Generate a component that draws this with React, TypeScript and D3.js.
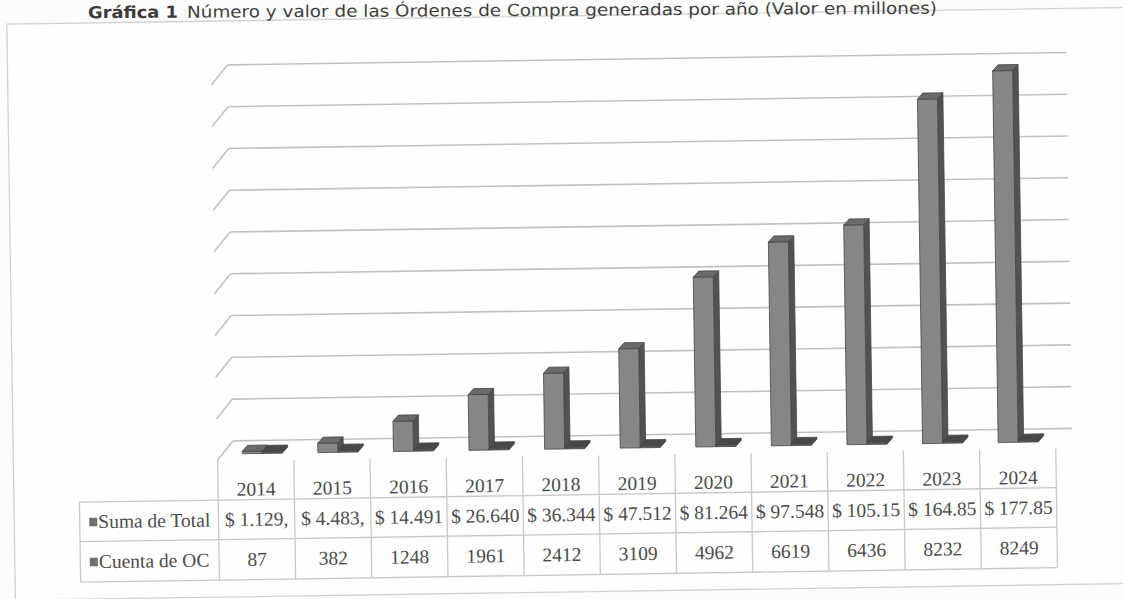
import React from "react";
import * as d3 from "d3";

const years = ["2014", "2015", "2016", "2017", "2018", "2019", "2020", "2021", "2022", "2023", "2024"];
const sumaTotal = [1129e6, 4483e6, 14491e6, 26640e6, 36344e6, 47512e6, 81264e6, 97548e6, 105150e6, 164850e6, 177850e6];
const cuentaOC = [87, 382, 1248, 1961, 2412, 3109, 4962, 6619, 6436, 8232, 8249];
const sumaLabels = ["$ 1.129,", "$ 4.483,", "$ 14.491", "$ 26.640", "$ 36.344", "$ 47.512", "$ 81.264", "$ 97.548", "$ 105.15", "$ 164.85", "$ 177.85"];
const seriesNames = ["Suma de Total", "Cuenta de OC"];
const titleBold = "Gráfica 1";
const titleRest = "Número y valor de las Órdenes de Compra generadas por año (Valor en millones)";
const axisMax = 180e9;

const W = 1123;
const H = 599;

export default function App() {
  const depthDx = 16.3;
  const depthDy = 19.7;
  const floorFront = 456;
  const backBase = 436;
  const wallLeft = 231;
  const wallRight = 1070;

  const tableLeft = 76.5;
  const rowTops = [456, 495, 534.5, 575];

  const xCol = d3.scaleBand<string>().domain(years).range([215.3, 215.3 + 11 * 76.2]);
  const xBar = d3.scaleBand<string>().domain(years).range([228, 228 + 11 * 75.6]);
  const yGrid = d3.scaleLinear().domain([0, axisMax]).range([backBase, 60]);
  const yBar = d3.scaleLinear().domain([0, axisMax]).range([449, 449 - 376.2]);
  const ticks = yGrid.ticks(10);

  const barW = 20;
  const bdx = 5.5;
  const bdy = 6;
  const base = yBar(0);

  const bar3d = (x: number, v: number, key: string, dark: boolean) => {
    let top = yBar(v);
    if (base - top < 2) top = base - 2;
    const front = dark ? "#5a5a5a" : "#868686";
    const side = dark ? "#3d3d3d" : "#525252";
    const topC = dark ? "#484848" : "#6a6a6a";
    return (
      <g key={key} stroke="#474747" strokeWidth={0.8} strokeLinejoin="round">
        <polygon
          points={`${x + barW},${top} ${x + barW + bdx},${top - bdy} ${x + barW + bdx},${base - bdy} ${x + barW},${base}`}
          fill={side}
        />
        <rect x={x} y={top} width={barW} height={base - top} fill={front} />
        <polygon
          points={`${x},${top} ${x + barW},${top} ${x + barW + bdx},${top - bdy} ${x + bdx},${top - bdy}`}
          fill={topC}
        />
      </g>
    );
  };

  const tableFont = "'Liberation Serif', 'DejaVu Serif', serif";
  const textColor = "#4b4b4b";
  const gridColor = "#c2c2c2";
  const tableLine = "#c8c8c8";

  const colEdges = years.map((y) => xCol(y) as number).concat([(xCol(years[10]) as number) + xCol.bandwidth()]);
  const tableRight = colEdges[colEdges.length - 1];

  return (
    <svg
      width={W}
      height={H}
      viewBox={`0 0 ${W} ${H}`}
      style={{ position: "absolute", left: 0, top: 0, display: "block" }}
    >
      <rect x={0} y={0} width={W} height={H} fill="#fcfcfb" />
      <g transform="rotate(-0.85 560 300)">
        {/* chart frame */}
        <rect x={11} y={16} width={1140} height={576} fill="#fefefe" stroke="#d2d2d2" strokeWidth={1.3} />

        {/* back wall gridlines + left wall diagonals */}
        {ticks.map((t) => (
          <g key={"g" + t} stroke={gridColor} strokeWidth={1.6} fill="none">
            <line x1={wallLeft} y1={yGrid(t)} x2={wallRight} y2={yGrid(t)} />
            <line x1={wallLeft - depthDx} y1={yGrid(t) + depthDy} x2={wallLeft} y2={yGrid(t)} />
          </g>
        ))}

        {/* bars */}
        {years.map((y, i) => {
          const x = (xBar(y) as number) + 12;
          return (
            <g key={"b" + y}>
              {bar3d(x, sumaTotal[i], "s1", false)}
              {bar3d(x + barW, cuentaOC[i], "s2", true)}
            </g>
          );
        })}

        {/* data table */}
        <g stroke={tableLine} strokeWidth={1.3} fill="none">
          {colEdges.map((cx, k) => (
            <line key={"c" + k} x1={cx} y1={floorFront} x2={cx} y2={rowTops[3]} />
          ))}
          {[1, 2, 3].map((r) => (
            <line key={"r" + r} x1={tableLeft} y1={rowTops[r]} x2={tableRight} y2={rowTops[r]} />
          ))}
          <line x1={tableLeft} y1={rowTops[1]} x2={tableLeft} y2={rowTops[3]} />
        </g>

        <g fontFamily={tableFont} fontSize={19.5} fill={textColor} textAnchor="middle">
          {years.map((y) => (
            <text key={"h" + y} x={(xCol(y) as number) + xCol.bandwidth() / 2} y={491}>
              {y}
            </text>
          ))}
          {years.map((y, i) => (
            <text key={"s" + y} x={(xCol(y) as number) + xCol.bandwidth() / 2} y={(rowTops[1] + rowTops[2]) / 2 + 6.5}>
              {sumaLabels[i]}
            </text>
          ))}
          {years.map((y, i) => (
            <text key={"n" + y} x={(xCol(y) as number) + xCol.bandwidth() / 2} y={(rowTops[2] + rowTops[3]) / 2 + 6.5}>
              {cuentaOC[i]}
            </text>
          ))}
        </g>

        {seriesNames.map((name, r) => {
          const baseline = (rowTops[r + 1] + rowTops[r + 2]) / 2 + 6.5;
          return (
            <g key={"l" + r}>
              <rect x={86} y={baseline - 10.5} width={8} height={8.5} fill="#707070" />
              <text x={95} y={baseline} fontFamily={tableFont} fontSize={19.5} fill={textColor}>
                {name}
              </text>
            </g>
          );
        })}
      </g>

      {/* title (slightly skewed like the scan, kept inside the page) */}
      <g transform="rotate(-0.3 500 15)">
        <text
          x={88}
          y={16}
          fontFamily="'DejaVu Sans', Verdana, sans-serif"
          fontSize={16.5}
          fontWeight="bold"
          fill="#3a3a3a"
          textLength={90}
          lengthAdjust="spacingAndGlyphs"
        >
          {titleBold}
        </text>
        <text
          x={187}
          y={16}
          fontFamily="'DejaVu Sans', Verdana, sans-serif"
          fontSize={16.5}
          fill="#3f3f3f"
          textLength={750}
          lengthAdjust="spacingAndGlyphs"
        >
          {titleRest}
        </text>
      </g>
    </svg>
  );
}
